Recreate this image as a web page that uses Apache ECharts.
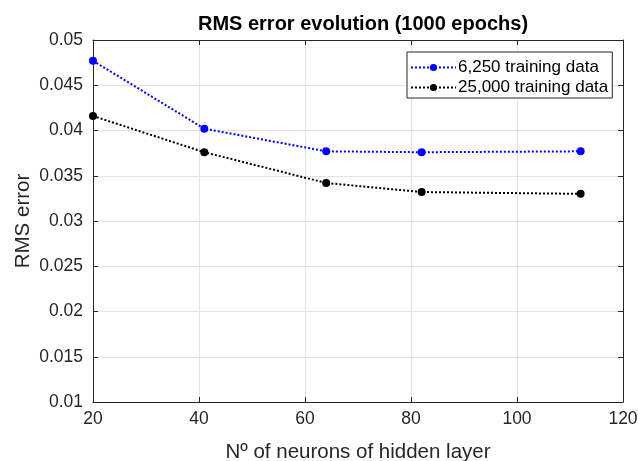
<!DOCTYPE html>
<html>
<head>
<meta charset="utf-8">
<script src="https://cdn.jsdelivr.net/npm/echarts@6/dist/echarts.min.js"></script>
<style>html,body{margin:0;padding:0;background:#fff}#c{width:638px;height:461px}</style>
</head>
<body>
<div id="c"></div>
<script>
const neurons = [20, 41, 64, 82, 112];
const rms6250 = [0.0477, 0.0402, 0.0377, 0.0376, 0.0377];
const rms25000 = [0.0416, 0.0376, 0.0342, 0.0332, 0.0330];
const seriesNames = ['6,250 training data', '25,000 training data'];
const titleText = 'RMS error evolution (1000 epochs)';
const xName = 'Nº of neurons of hidden layer';
const yName = 'RMS error';

const font = 'Liberation Sans, Arial, Helvetica, sans-serif';
const axisColor = '#262626';
const chart = echarts.init(document.getElementById('c'));
function pairs(xs, ys){ return xs.map((x,i)=>[x, ys[i]]); }
const yFmt = v => String(Number(v.toFixed(3)));
chart.setOption({
  animation: false,
  textStyle: {fontFamily: font},
  title: {
    text: titleText, left: 358, top: 9, textAlign: 'center',
    textStyle: {fontFamily: font, fontSize: 20, fontWeight: 'bold', color: '#000'}
  },
  grid: {left: 93, right: 15, top: 40, bottom: 59, containLabel: false, outerBoundsMode: 'none'},
  legend: {
    orient: 'vertical', left: 407, top: 52,
    backgroundColor: '#fff', borderColor: axisColor, borderWidth: 1,
    padding: [7, 4, 2, 3], itemGap: 3, itemWidth: 45, itemHeight: 9,
    textStyle: {fontFamily: font, fontSize: 17, color: '#000', padding: [0,0,0,-3]},
    data: seriesNames
  },
  xAxis: [{
    type: 'value', min: 20, max: 120, interval: 20, position: 'bottom',
    name: xName, nameLocation: 'middle', nameGap: 40, nameMoveOverlap: false,
    nameTextStyle: {fontFamily: font, fontSize: 20.5, color: '#262626'},
    axisLine: {show: true, lineStyle: {color: axisColor, width: 1}},
    axisTick: {show: true, inside: true, length: 5, lineStyle: {color: axisColor}},
    axisLabel: {fontFamily: font, fontSize: 17.5, color: '#262626', margin: 8},
    splitLine: {show: true, lineStyle: {color: '#e3e3e3', width: 1}}
  }, {
    type: 'value', min: 20, max: 120, interval: 20, position: 'top',
    axisLine: {show: true, lineStyle: {color: axisColor, width: 1}},
    axisTick: {show: true, inside: true, length: 5, lineStyle: {color: axisColor}},
    axisLabel: {show: false}, splitLine: {show: false}
  }],
  yAxis: [{
    type: 'value', min: 0.01, max: 0.05, interval: 0.005, position: 'left',
    name: yName, nameLocation: 'middle', nameGap: 59, nameMoveOverlap: false,
    nameTextStyle: {fontFamily: font, fontSize: 20.5, color: '#262626'},
    axisLine: {show: true, lineStyle: {color: axisColor, width: 1}},
    axisTick: {show: true, inside: true, length: 5, lineStyle: {color: axisColor}},
    axisLabel: {fontFamily: font, fontSize: 17.5, color: '#262626', margin: 10, formatter: yFmt},
    splitLine: {show: true, lineStyle: {color: '#e3e3e3', width: 1}}
  }, {
    type: 'value', min: 0.01, max: 0.05, interval: 0.005, position: 'right',
    axisLine: {show: true, lineStyle: {color: axisColor, width: 1}},
    axisTick: {show: true, inside: true, length: 5, lineStyle: {color: axisColor}},
    axisLabel: {show: false}, splitLine: {show: false}
  }],
  series: [{
    name: seriesNames[0], type: 'line', data: pairs(neurons, rms6250),
    symbol: 'circle', symbolSize: 8, color: '#0000ff',
    lineStyle: {type: 'dotted', width: 2, color: '#0000ff'},
    itemStyle: {color: '#0000ff'}
  }, {
    name: seriesNames[1], type: 'line', data: pairs(neurons, rms25000),
    symbol: 'circle', symbolSize: 8, color: '#000',
    lineStyle: {type: 'dotted', width: 2, color: '#000'},
    itemStyle: {color: '#000'}
  }]
});
</script>
</body>
</html>
